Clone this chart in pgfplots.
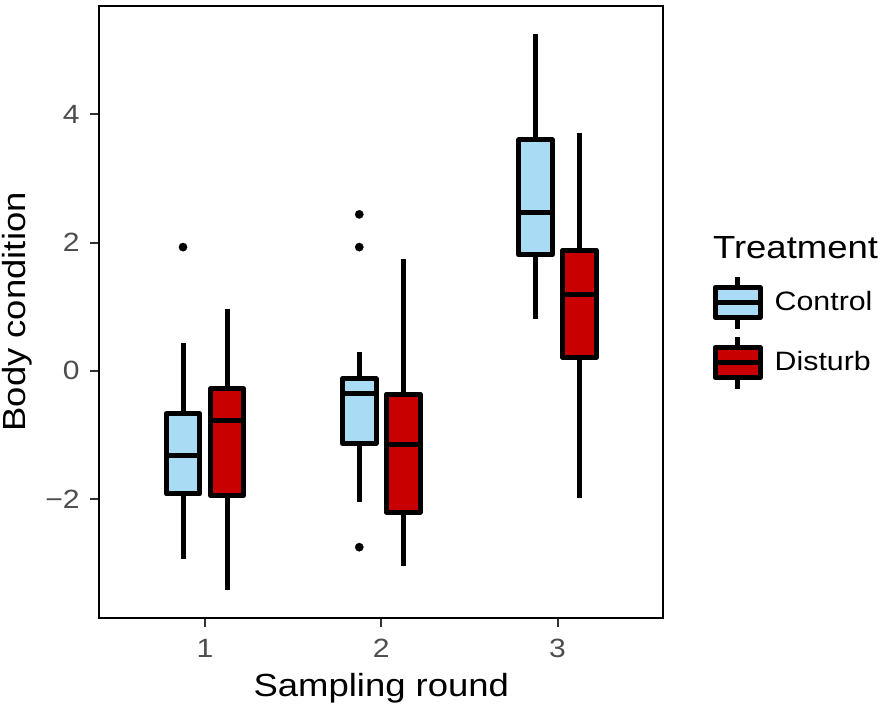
\documentclass[border=0pt]{standalone}
\usepackage{fontspec}
\setmainfont{Liberation Sans}[FakeStretch=1.14]
\usepackage{pgfplots}
\pgfplotsset{compat=1.18}
\usepgfplotslibrary{statistics}
\definecolor{cblue}{RGB}{169,219,245}
\definecolor{cred}{RGB}{200,0,0}
\definecolor{grey30}{RGB}{77,77,77}
\definecolor{grey20}{RGB}{51,51,51}
\pgfplotsset{
  bx/.style={draw=black, line width=2.5pt, line join=round,
    boxplot/draw direction=y,
    mark=*, mark size=2.1pt, mark options={fill=black, draw=black, line width=0.1pt},
    forget plot},
}
\begin{document}
\begin{tikzpicture}
\begin{axis}[
  scale only axis, width=282pt, height=305.85pt,
  xmin=0.4, xmax=3.6, ymin=-3.85, ymax=5.69,
  clip=false,
  xtick={1,2,3}, xticklabels={1,2,3},
  ytick={-2,0,2,4}, yticklabels={−2,0,2,4},
  tick pos=left, tick align=outside, major tick length=4.5pt,
  tick style={line width=1pt, color=grey20},
  axis line style={line width=1pt, black},
  /pgf/number format/assume math mode=true,
  every tick label/.append style={font=\fontsize{13.2}{15.5}\selectfont, text=grey30},
  xticklabel style={anchor=north, inner sep=0pt, yshift=-6pt},
  yticklabel style={anchor=east, inner sep=0pt, xshift=-5.15pt},
  xlabel={Sampling round}, ylabel={Body condition},
  xlabel style={at={(axis description cs:0.5,-0.128)}, anchor=base, inner sep=0pt, font=\fontsize{16}{19}\selectfont},
  ylabel style={at={(axis description cs:-0.1317,0.5)}, anchor=base, inner sep=0pt, font=\fontsize{16}{19}\selectfont},
  legend style={at={(axis description cs:1.0876,0.5643)}, anchor=north west,
    draw=none, fill=none, inner sep=0pt, outer sep=0pt, row sep=0pt, column sep=6pt,
    nodes={inner sep=0pt, outer sep=0pt}, cells={anchor=west},
    font=\fontsize{13.3}{16}\selectfont},
]
% Round 1
\addplot[bx, fill=cblue, boxplot prepared={draw position=0.875, box extend=0.19, whisker extend=0,
  lower whisker=-2.94, lower quartile=-1.919, median=-1.317, upper quartile=-0.669, upper whisker=0.435}]
  table[row sep=\\, y index=0] {y\\ 1.93\\};
\addplot[bx, fill=cred, boxplot prepared={draw position=1.125, box extend=0.19, whisker extend=0,
  lower whisker=-3.417, lower quartile=-1.939, median=-0.773, upper quartile=-0.28, upper whisker=0.964}]
  coordinates {};
% Round 2
\addplot[bx, fill=cblue, boxplot prepared={draw position=1.875, box extend=0.19, whisker extend=0,
  lower whisker=-2.053, lower quartile=-1.131, median=-0.358, upper quartile=-0.124, upper whisker=0.30}]
  table[row sep=\\, y index=0] {y\\ 2.44\\ 1.93\\ -2.75\\};
\addplot[bx, fill=cred, boxplot prepared={draw position=2.125, box extend=0.19, whisker extend=0,
  lower whisker=-3.04, lower quartile=-2.204, median=-1.151, upper quartile=-0.362, upper whisker=1.742}]
  coordinates {};
% Round 3
\addplot[bx, fill=cblue, boxplot prepared={draw position=2.875, box extend=0.19, whisker extend=0,
  lower whisker=0.809, lower quartile=1.809, median=2.477, upper quartile=3.603, upper whisker=5.257}]
  coordinates {};
\addplot[bx, fill=cred, boxplot prepared={draw position=3.125, box extend=0.19, whisker extend=0,
  lower whisker=-1.99, lower quartile=0.207, median=1.197, upper quartile=1.882, upper whisker=3.717}]
  coordinates {};
% Legend
\addlegendimage{legend image code/.code={
  \path[draw=none, fill=none] (0pt,-15pt) rectangle (25pt,15pt);
  \draw[line width=2.5pt, black] (12.5pt,-13pt) -- (12.5pt,-7.5pt) (12.5pt,7.5pt) -- (12.5pt,13pt);
  \draw[line width=2.5pt, black, fill=cblue, line join=round] (1.25pt,-7.5pt) rectangle (23.75pt,7.5pt);
  \draw[line width=2.5pt, black] (1.25pt,0pt) -- (23.75pt,0pt);
}}
\addlegendentry{Control}
\addlegendimage{legend image code/.code={
  \path[draw=none, fill=none] (0pt,-15pt) rectangle (25pt,15pt);
  \draw[line width=2.5pt, black] (12.5pt,-13pt) -- (12.5pt,-7.5pt) (12.5pt,7.5pt) -- (12.5pt,13pt);
  \draw[line width=2.5pt, black, fill=cred, line join=round] (1.25pt,-7.5pt) rectangle (23.75pt,7.5pt);
  \draw[line width=2.5pt, black] (1.25pt,0pt) -- (23.75pt,0pt);
}}
\addlegendentry{Disturb}
\node[anchor=base west, inner sep=0pt, font=\fontsize{16}{19}\selectfont] at (axis description cs:1.0876,0.5875) {Treatment};
\end{axis}
\path ([xshift=-49.65pt,yshift=-48.65pt]current axis.south west) rectangle ([xshift=111.35pt,yshift=3pt]current axis.north east);
\end{tikzpicture}
\end{document}
